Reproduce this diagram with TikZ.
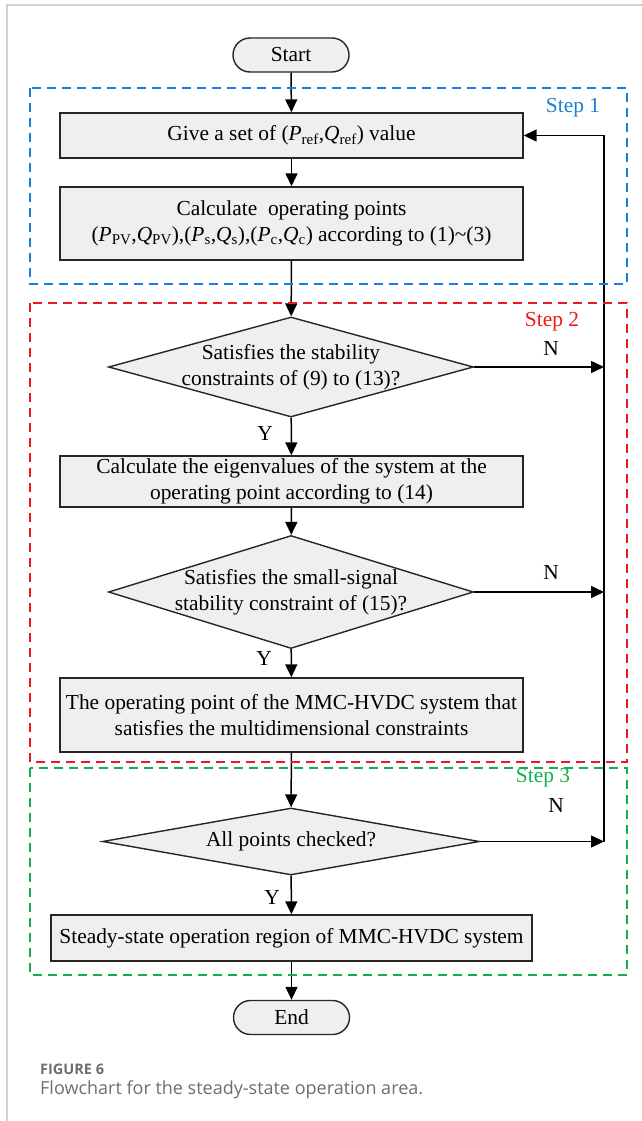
\documentclass[tikz,border=0pt]{standalone}
\usepackage{fontspec}
\setmainfont{Liberation Serif}
\newfontfamily\capfont{Open Sans}
\usetikzlibrary{arrows.meta,shapes.geometric}

\definecolor{stepblue}{HTML}{1C7ED6}
\definecolor{stepred}{HTML}{F01818}
\definecolor{stepgreen}{HTML}{10B050}
\definecolor{boxfill}{HTML}{EFEFEF}
\definecolor{capgray}{HTML}{6E6E6E}

\tikzset{
  procbox/.style={draw=black!85, fill=boxfill, line width=1.4pt, minimum width=463pt, align=center, inner sep=0pt},
  termbox/.style={draw=black!85, fill=boxfill, line width=1.4pt, rounded corners=17pt, minimum width=116pt, minimum height=34pt},
  decision/.style={draw=black!85, fill=boxfill, line width=1.4pt, diamond, minimum width=365pt, minimum height=100pt, inner sep=0pt},
  flow/.style={line width=1.5pt, -{Triangle[length=13pt,width=12pt]}},
  stepframe/.style={line width=1.4pt, dash pattern=on 9pt off 6pt},
}

\begin{document}
\begin{tikzpicture}[x=1pt, y=-1pt, font=\fontsize{21.4}{26}\selectfont]
  \useasboundingbox (0,0) rectangle (642,1121);
  % Page border
  \draw[black!18, line width=1.2pt] (7,1121) -- (7,5) -- (642,5);

  % Draw the terminals and the process boxes
  \node[termbox] (start) at (291,55) {Start};
  \node[procbox, minimum height=45pt] (give) at (291.5,135.5)
    {Give a set of (\textit{P}\textsubscript{ref},\textit{Q}\textsubscript{ref}) value};
  \node[procbox, minimum height=73pt] (calc) at (291.5,223.5)
    {Calculate\ \ operating points\\(\textit{P}\textsubscript{PV},\textit{Q}\textsubscript{PV}),(\textit{P}\textsubscript{s},\textit{Q}\textsubscript{s}),(\textit{P}\textsubscript{c},\textit{Q}\textsubscript{c}) according to (1)\textasciitilde(3)};
  \node[decision] (stab) at (291,367) {};
  \node[align=center] (stabtext) at (stab) {Satisfies the stability\\constraints of (9) to (13)?};
  \node[procbox, minimum height=51pt] (eig) at (291.5,481.5)
    {Calculate the eigenvalues of the system at the\\operating point according to (14)};
  \node[decision, minimum height=113pt] (small) at (291,592) {};
  \node[align=center] (smalltext) at (small) {Satisfies the small-signal\\stability constraint of (15)?};
  \node[procbox, minimum height=74pt] (oppt) at (291.5,715)
    {The operating point of the MMC-HVDC system that\\satisfies the multidimensional constraints};
  \node[decision, minimum width=377pt, minimum height=67pt] (allpts) at (291,841.5) {};
  \node (allptstext) at (allpts) {All points checked?};
  \node[procbox, minimum width=481pt, minimum height=46pt] (region) at (291.5,938)
    {Steady-state operation region of MMC-HVDC system};
  \node[termbox] (end) at (291.5,1017.5) {End};

  % Draw the main flow
  \draw[flow] (start) -- (give);
  \draw[flow] (give) -- (calc);
  \draw[flow] (calc) -- (stab);
  \draw[flow] (stab) -- (eig);
  \draw[flow] (eig) -- (small);
  \draw[flow] (small) -- (oppt);
  \draw[flow] (oppt) -- (allpts);
  \draw[flow] (allpts) -- (region);
  \draw[flow] (region) -- (end);

  % Draw the return loop
  \coordinate (looptop) at (604,135.5);
  \foreach \d in {stab,small,allpts}
    \draw[flow] (\d.east) -- (\d.east -| looptop);
  \draw[flow] (allpts.east -| looptop) -- (looptop) -- (give.east);

  % Branch labels
  \node (y1) at (265,433) {Y};
  \node (y2) at (264,658) {Y};
  \node (y3) at (272,897) {Y};
  \node (n1) at (551,348) {N};
  \node (n2) at (551,572) {N};
  \node (n3) at (556,805) {N};

  % Step frames
  \draw[stepframe, stepblue] (30,88) rectangle (627,284);
  \draw[stepframe, stepred] (30,303) rectangle (627,762);
  \draw[stepframe, stepgreen] (30,768) rectangle (627,975);
  \node[text=stepblue] (step1) at (573,108) {Step 1};
  \node[text=stepred] (step2) at (552,322) {Step 2};
  \node[text=stepgreen] (step3) at (543,778) {Step 3};

  % Caption
  \node[anchor=base west, inner sep=0pt, text=capgray, font={\capfont\bfseries\fontsize{14.5}{16}\selectfont}] (fignum) at (40,1074) {FIGURE 6};
  \node[anchor=base west, inner sep=0pt, text=capgray, font={\capfont\fontsize{18}{20}\selectfont}] (figcap) at (40,1094) {Flowchart for the steady-state operation area.};
\end{tikzpicture}
\end{document}
